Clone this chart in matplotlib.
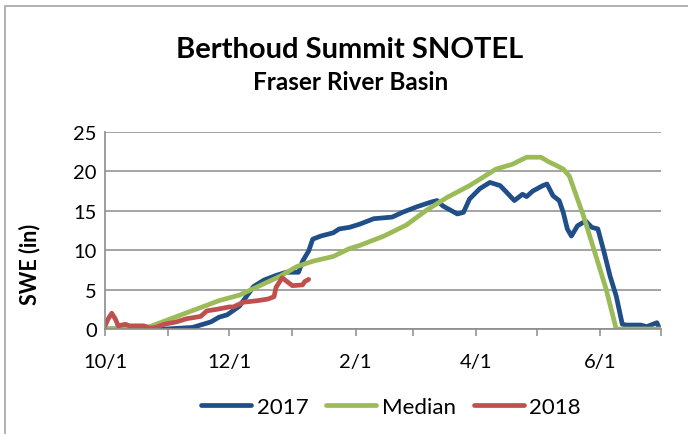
from datetime import date

import matplotlib
matplotlib.use("Agg")
import matplotlib.pyplot as plt
from matplotlib.patches import Rectangle

# Day of water year (0 = 10/1) and SWE in inches
wy2017_day = [0, 30, 43, 52, 56, 60, 66, 73, 78, 84, 89, 95, 97, 100, 102, 106,
              112, 115, 120, 125, 132, 141, 146, 153, 160, 163, 166, 173, 176,
              179, 184, 189, 194, 197, 201, 205, 207, 210, 215, 217, 220, 223,
              225, 227, 229, 232, 236, 239, 242, 245, 248, 251, 254, 256, 263,
              266, 271, 272]
wy2017_swe = [0, 0, 0.2, 0.9, 1.5, 1.8, 2.9, 5.4, 6.2, 6.8, 7.2, 7.2, 8.6, 9.9,
              11.4, 11.8, 12.2, 12.7, 12.9, 13.3, 14.0, 14.2, 14.8, 15.5, 16.1,
              16.3, 15.6, 14.6, 14.8, 16.5, 17.8, 18.6, 18.2, 17.4, 16.3, 17.1,
              16.8, 17.5, 18.2, 18.4, 16.9, 16.3, 14.8, 12.7, 11.8, 13.1, 13.7,
              12.9, 12.7, 9.8, 6.7, 4.2, 0.6, 0.5, 0.5, 0.3, 0.8, 0.2]

median_day = [0, 22, 56, 66, 76, 86, 94, 102, 112, 120, 125, 137, 148, 158,
              168, 179, 184, 192, 200, 207, 214, 218, 222, 225, 228, 235, 241,
              246, 251, 273]
median_swe = [0, 0.3, 3.6, 4.3, 5.5, 6.7, 7.9, 8.6, 9.2, 10.2, 10.6, 11.8, 13.2,
              15.1, 16.7, 18.2, 19.0, 20.3, 20.9, 21.8, 21.8, 21.2, 20.7, 20.3,
              19.4, 14.3, 9.3, 5.1, 0, 0]

wy2018_day = [0, 1.6, 3.3, 5, 6.5, 10, 12, 19, 22, 25, 29, 35, 40, 47, 50, 55,
              61, 63, 68, 75, 80, 83, 84, 87, 89, 92, 97, 98, 100]
wy2018_swe = [0.4, 1.3, 2.0, 1.3, 0.4, 0.6, 0.4, 0.4, 0.1, 0.2, 0.6, 0.9, 1.3,
              1.6, 2.3, 2.5, 2.8, 2.8, 3.4, 3.6, 3.8, 4.1, 5.3, 6.5, 6.1, 5.5,
              5.6, 6.0, 6.3]

month_starts = [date(2016, 10, 1), date(2016, 11, 1), date(2016, 12, 1),
                date(2017, 1, 1), date(2017, 2, 1), date(2017, 3, 1),
                date(2017, 4, 1), date(2017, 5, 1), date(2017, 6, 1),
                date(2017, 7, 1)]
tick_labels = ["10/1", "", "12/1", "", "2/1", "", "4/1", "", "6/1", ""]

BLUE = "#1F4E89"
GREEN = "#9BBB59"
RED = "#C0504D"
GRID = "#8C8C8C"
FONT = ["Lato", "DejaVu Sans"]

W, H = 688, 435
fig = plt.figure(figsize=(W / 100, H / 100), dpi=100)
fig.patch.set_facecolor("white")

# outer chart frame
fig.add_artist(Rectangle((5 / W, -0.1), 1.2, 1 - 7 / H + 0.1,
                         transform=fig.transFigure, fill=False,
                         edgecolor="#A6A6A6", lw=1.2))

ax = fig.add_axes([105 / W, 1 - 330 / H, (661 - 105) / W, (330 - 133) / H])

tick_pos = [(d - month_starts[0]).days for d in month_starts]

ax.plot(wy2017_day, wy2017_swe, color=BLUE, lw=3.4, label="2017",
        solid_capstyle="round", solid_joinstyle="round")
ax.plot(median_day, median_swe, color=GREEN, lw=3.4, label="Median",
        solid_capstyle="round", solid_joinstyle="round")
ax.plot(wy2018_day, wy2018_swe, color=RED, lw=3.4, label="2018",
        solid_capstyle="round", solid_joinstyle="round")

ax.set_xlim(tick_pos[0], tick_pos[-1])
ax.set_ylim(0, 25)
ax.set_yticks([0, 5, 10, 15, 20, 25])
ax.set_xticks(tick_pos)
ax.set_xticklabels(tick_labels)
ax.grid(axis="y", color=GRID, lw=1.1)
ax.set_axisbelow(True)

for s in ("top", "right"):
    ax.spines[s].set_visible(False)
for s in ("left", "bottom"):
    ax.spines[s].set_color(GRID)
    ax.spines[s].set_linewidth(1.2)
ax.tick_params(axis="x", length=5, width=1.1, color=GRID, pad=12.5,
               labelsize=14.5)
ax.tick_params(axis="y", length=0, pad=6, labelsize=14.5)
for lab in ax.get_xticklabels() + ax.get_yticklabels():
    lab.set_family(FONT)

fig.text(350 / W, 1 - 58 / H, "Berthoud Summit SNOTEL", ha="center",
         va="baseline", fontsize=21, weight="bold", family=FONT)
fig.text(351 / W, 1 - 90 / H, "Fraser River Basin", ha="center",
         va="baseline", fontsize=17.5, weight="bold", family=FONT)
fig.text(30 / W, 1 - 264 / H, "SWE (in)", ha="center", va="center",
         rotation=90, fontsize=15.5, weight="bold", family=FONT)

leg = fig.legend(loc="center", bbox_to_anchor=(391 / W, 1 - 408 / H),
                 ncol=3, frameon=False, handlelength=2.25, handletextpad=0.25,
                 columnspacing=0.8, prop={"family": FONT, "size": 16})

fig.savefig("out.png", dpi=100, facecolor="white")
